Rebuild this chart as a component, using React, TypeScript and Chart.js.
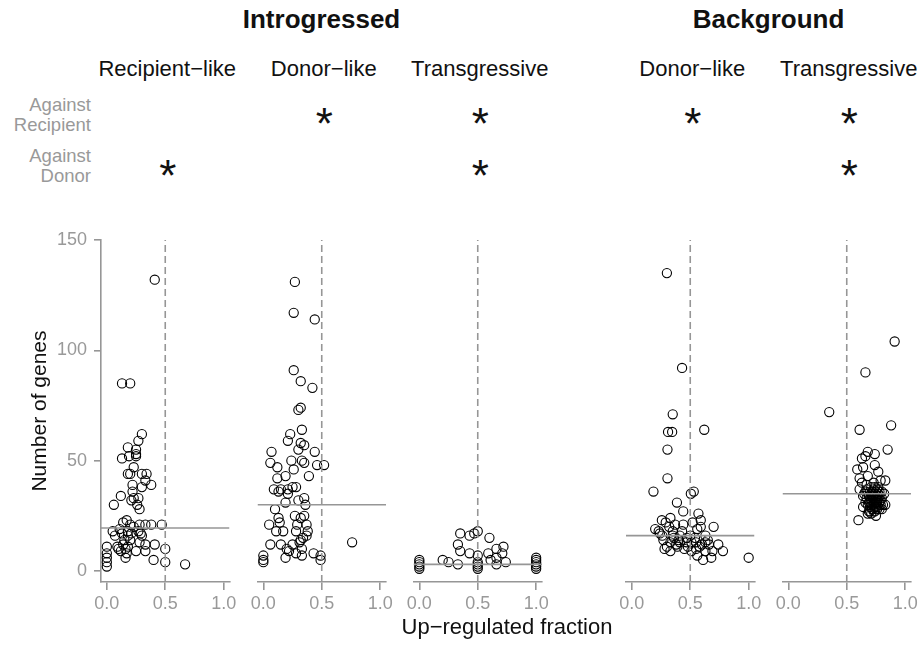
import React, { useEffect, useRef } from 'react';
import { Chart, registerables } from 'chart.js';

Chart.register(...registerables);

// ---------------- data ----------------
const groupTitles = ['Introgressed', 'Background'];
const panelTitles = ['Recipient−like', 'Donor−like', 'Transgressive', 'Donor−like', 'Transgressive'];
const panelGroup = [0, 0, 0, 1, 1];
const rowLabels = [['Against', 'Recipient'], ['Against', 'Donor']];
const sigAgainstRecipient = [false, true, true, true, true];
const sigAgainstDonor = [true, false, true, false, true];
const medians = [19.5, 30, 3, 16, 35];
const xTicks = [0, 0.5, 1];
const yTicks = [0, 50, 100, 150];
const refFraction = 0.5;
const xTitle = 'Up−regulated fraction';
const yTitle = 'Number of genes';

const introRecipientLike: [number, number][] = [
  [0.41, 132], [0.13, 85], [0.2, 85], [0.3, 62], [0.27, 59], [0.18, 56], [0.25, 55], [0.25, 53],
  [0.13, 51], [0.19, 52], [0.25, 52], [0.23, 47], [0.18, 44], [0.2, 44], [0.3, 44], [0.34, 44],
  [0.33, 41], [0.38, 39], [0.22, 39], [0.3, 38], [0.22, 36], [0.12, 34], [0.23, 33], [0.27, 33],
  [0.21, 32], [0.26, 30], [0.28, 28], [0.06, 30], [0.17, 23], [0.14, 22], [0.2, 21], [0.28, 21],
  [0.33, 21], [0.38, 21], [0.47, 21], [0.05, 18], [0.11, 19], [0.07, 16], [0.18, 18], [0.21, 17],
  [0.27, 18], [0.29, 17], [0.3, 16], [0.18, 16], [0.2, 14], [0.14, 12], [0.18, 11], [0.28, 13],
  [0.33, 12], [0.41, 12], [0.1, 10], [0.12, 9], [0.16, 10], [0.25, 9], [0.33, 9], [0.5, 10],
  [0.16, 6], [0, 11], [0, 8], [0, 6], [0, 2], [0.4, 5], [0.5, 4], [0.67, 3], [0.09, 11],
  [0.15, 14], [0.23, 20], [0.17, 8], [0.13, 17], [0, 4],
];

const introDonorLike: [number, number][] = [
  [0.27, 131], [0.26, 117], [0.44, 114], [0.26, 91], [0.32, 86], [0.42, 83], [0.3, 73], [0.32, 74],
  [0.33, 64], [0.23, 62], [0.21, 59], [0.32, 58], [0.35, 57], [0.3, 55], [0.07, 54], [0.44, 54],
  [0.06, 49], [0.24, 50], [0.33, 50], [0.35, 49], [0.12, 47], [0.26, 46], [0.46, 48], [0.52, 48],
  [0.12, 42], [0.19, 43], [0.39, 43], [0.09, 37], [0.13, 36], [0.15, 37], [0.21, 35], [0.21, 37],
  [0.25, 38], [0.28, 38], [0.3, 32], [0.35, 33], [0.36, 30], [0.19, 31], [0.1, 28], [0.27, 25],
  [0.32, 24], [0.35, 25], [0.13, 24], [0.14, 22], [0.05, 21], [0.29, 21], [0.37, 21], [0.11, 18],
  [0.17, 18], [0.28, 18], [0.38, 18], [0.37, 16], [0.34, 15], [0.32, 14], [0.06, 12], [0.15, 12],
  [0.25, 12], [0.31, 13], [0.2, 10], [0.22, 9], [0.28, 8], [0.33, 10], [0.33, 7], [0.19, 6],
  [0.43, 8], [0.49, 7], [0.49, 5], [0, 7], [0, 5], [0, 4], [0.76, 13],
];

const introTransgressive: [number, number][] = [
  [0.35, 17], [0.43, 16], [0.47, 17], [0.5, 18], [0.6, 15], [0.33, 12], [0.72, 11], [0.66, 10],
  [0.35, 9], [0.43, 8], [0.59, 8], [0.71, 8], [0.5, 7], [0.2, 5], [0.25, 4], [0.33, 3],
  [0.61, 5], [0.66, 6], [0.66, 3], [0.74, 4], [0.5, 4], [0.5, 2], [0.5, 3], [0, 5],
  [0, 4], [0, 3], [0, 2], [0, 1], [1, 6], [1, 5], [1, 4], [1, 3], [1, 2], [1, 1], [0.5, 1],
];

const backDonorLike: [number, number][] = [
  [0.3, 135], [0.43, 92], [0.35, 71], [0.31, 63], [0.345, 63], [0.62, 64], [0.305, 55], [0.305, 42],
  [0.185, 36], [0.505, 35], [0.53, 36], [0.386, 31], [0.44, 27], [0.57, 26], [0.257, 23], [0.33, 24],
  [0.59, 23], [0.7, 20], [0.2, 19], [0.23, 18], [0.29, 22], [0.32, 20], [0.37, 21], [0.44, 21],
  [0.52, 22], [0.56, 19], [0.59, 20], [0.26, 16], [0.27, 14], [0.35, 18], [0.35, 16], [0.41, 16],
  [0.47, 15], [0.5, 16], [0.54, 15], [0.63, 16], [0.33, 13], [0.38, 12], [0.41, 13], [0.47, 13],
  [0.51, 13], [0.55, 13], [0.6, 12], [0.63, 13], [0.66, 12], [0.74, 12], [0.33, 9], [0.39, 11],
  [0.51, 9], [0.55, 10], [0.63, 9], [0.69, 9], [0.78, 9], [0.61, 5], [0.68, 6], [1.0, 6],
  [0.24, 17], [0.28, 10], [0.45, 10], [0.58, 11], [0.4, 14], [0.65, 14], [0.3, 11], [0.36, 15],
  [0.48, 11], [0.56, 7], [0.43, 18],
];

const backTransgressive: [number, number][] = [
  [0.91, 104], [0.66, 90], [0.35, 72], [0.88, 66], [0.61, 64], [0.85, 55], [0.68, 54], [0.74, 53],
  [0.63, 51], [0.66, 52], [0.74, 48], [0.59, 46], [0.64, 47], [0.77, 45], [0.61, 42], [0.68, 43],
  [0.79, 41], [0.83, 41], [0.61, 37], [0.67, 39], [0.83, 30], [0.6, 23], [0.68, 26], [0.74, 27],
  [0.65, 35], [0.67, 33], [0.69, 31], [0.7, 36], [0.71, 34], [0.72, 32], [0.73, 30], [0.74, 35],
  [0.75, 33], [0.76, 31], [0.77, 29], [0.78, 34], [0.79, 32], [0.8, 36], [0.81, 30], [0.7, 29],
  [0.72, 28], [0.68, 30], [0.66, 31], [0.71, 38], [0.74, 38], [0.76, 37], [0.78, 28], [0.73, 27],
  [0.69, 27], [0.75, 25], [0.71, 26], [0.8, 33], [0.64, 34], [0.82, 35], [0.72, 36], [0.76, 34],
  [0.74, 31], [0.7, 33], [0.78, 31], [0.67, 37], [0.73, 40], [0.63, 40], [0.77, 38],
  [0.71, 32], [0.73, 34], [0.75, 36], [0.77, 33], [0.72, 30], [0.74, 29], [0.76, 28], [0.7, 31],
  [0.73, 33], [0.75, 31], [0.77, 35], [0.79, 30], [0.71, 35], [0.74, 33], [0.72, 34], [0.76, 32],
  [0.78, 36], [0.69, 34], [0.73, 37], [0.75, 29], [0.7, 27], [0.8, 28], [0.66, 36], [0.64, 29],
];

const panelSeries = [introRecipientLike, introDonorLike, introTransgressive, backDonorLike, backTransgressive];

// ---------------- layout / style ----------------
const FONT = '"Liberation Sans", Arial, Helvetica, sans-serif';
const GRAY = '#969696';
const TEXT_GRAY = '#999999';
const X_MIN = -0.05;
const X_MAX = 1.05;
const Y_MIN = -5;
const Y_MAX = 150;
const PANEL_LEFTS = [101, 257.5, 413.5, 626, 782.5];
const PANEL_W = 128.5;
const CANVAS_TOP = 220;
const CANVAS_H = 425;
const PAD_TOP = 20;
const X_AXIS_H = 63;

Chart.defaults.font.family = FONT;

function Panel({ index }: { index: number }) {
  const ref = useRef<HTMLCanvasElement | null>(null);
  const showY = index === 0;
  const panelLeft = PANEL_LEFTS[index];
  const canvasLeft = showY ? 0 : Math.floor(panelLeft) - 12;
  const leftGutter = panelLeft - canvasLeft;
  const canvasW = Math.ceil(panelLeft + PANEL_W) + 12 - canvasLeft;
  const padRight = canvasLeft + canvasW - (panelLeft + PANEL_W);

  useEffect(() => {
    const canvas = ref.current;
    if (!canvas) return;
    const points = panelSeries[index].map(([x, y]) => ({ x, y }));
    const chart = new Chart(canvas, {
      type: 'scatter',
      data: {
        datasets: [
          {
            type: 'line',
            data: [{ x: refFraction, y: Y_MIN }, { x: refFraction, y: Y_MAX }],
            borderColor: GRAY,
            borderWidth: 1.6,
            borderDash: [7, 4],
            pointRadius: 0,
            showLine: true,
          } as any,
          {
            type: 'line',
            data: [{ x: X_MIN, y: medians[index] }, { x: X_MAX, y: medians[index] }],
            borderColor: GRAY,
            borderWidth: 1.6,
            pointRadius: 0,
            showLine: true,
          } as any,
          {
            data: points,
            pointRadius: 4.6,
            pointBorderColor: '#000',
            pointBackgroundColor: 'rgba(0,0,0,0)',
            pointBorderWidth: 1.1,
            clip: false,
          } as any,
        ],
      },
      options: {
        responsive: false,
        animation: false,
        events: [],
        layout: {
          padding: { left: showY ? 0 : leftGutter, right: padRight, top: PAD_TOP, bottom: 0 },
        },
        plugins: { legend: { display: false }, tooltip: { enabled: false } },
        scales: {
          x: {
            type: 'linear',
            min: X_MIN,
            max: X_MAX,
            afterBuildTicks: (s: any) => {
              s.ticks = xTicks.map((v) => ({ value: v }));
            },
            afterFit: (s: any) => {
              s.height = X_AXIS_H;
            },
            grid: { drawOnChartArea: false, drawTicks: true, tickLength: 8, color: GRAY, lineWidth: 1.6 },
            border: { display: true, color: GRAY, width: 1.6 },
            ticks: {
              color: TEXT_GRAY,
              font: { family: FONT, size: 18 },
              padding: 3,
              maxRotation: 0,
              autoSkip: false,
              callback: (v: any) => Number(v).toFixed(1),
            },
          },
          y: {
            type: 'linear',
            display: showY,
            min: Y_MIN,
            max: Y_MAX,
            afterBuildTicks: (s: any) => {
              s.ticks = yTicks.map((v) => ({ value: v }));
            },
            afterFit: (s: any) => {
              s.width = showY ? leftGutter : 0;
            },
            grid: { drawOnChartArea: false, drawTicks: true, tickLength: 7, color: GRAY, lineWidth: 1.6 },
            border: { display: true, color: GRAY, width: 1.6 },
            ticks: {
              color: TEXT_GRAY,
              font: { family: FONT, size: 18 },
              padding: 7,
              autoSkip: false,
              callback: (v: any) => String(v),
            },
            title: {
              display: true,
              text: yTitle,
              color: '#111',
              font: { family: FONT, size: 21 },
              padding: { top: 28, bottom: 0 },
            },
          },
        },
      },
    });
    return () => chart.destroy();
  }, [index]);

  return (
    <canvas
      ref={ref}
      width={canvasW}
      height={CANVAS_H}
      style={{ position: 'absolute', left: canvasLeft, top: CANVAS_TOP, width: canvasW, height: CANVAS_H }}
    />
  );
}

const centered = (x: number, y: number, extra: React.CSSProperties = {}): React.CSSProperties => ({
  position: 'absolute',
  left: x,
  top: y,
  transform: 'translate(-50%, -50%)',
  lineHeight: 1,
  whiteSpace: 'nowrap',
  ...extra,
});

export default function App() {
  const panelCenter = (i: number) => PANEL_LEFTS[i] + PANEL_W / 2;
  const groupCenter = (g: number) => {
    const idx = panelGroup.map((pg, i) => (pg === g ? i : -1)).filter((i) => i >= 0);
    const l = PANEL_LEFTS[idx[0]];
    const r = PANEL_LEFTS[idx[idx.length - 1]] + PANEL_W;
    return (l + r) / 2;
  };
  return (
    <div
      style={{
        position: 'absolute',
        left: 0,
        top: 0,
        width: 919,
        height: 645,
        background: '#fff',
        fontFamily: FONT,
        overflow: 'hidden',
      }}
    >
      {groupTitles.map((t, g) => (
        <div key={t} style={centered(groupCenter(g), 19, { fontSize: 26, fontWeight: 'bold', color: '#111' })}>
          {t}
        </div>
      ))}
      {panelTitles.map((t, i) => (
        <div key={'pt' + i} style={centered(panelCenter(i) + 2, 68.5, { fontSize: 22, color: '#111' })}>
          {t}
        </div>
      ))}
      {rowLabels.map((lines, r) => (
        <div
          key={'rl' + r}
          style={{
            position: 'absolute',
            right: 919 - 91,
            top: r === 0 ? 95 : 146,
            textAlign: 'right',
            fontSize: 18.5,
            lineHeight: '20px',
            color: TEXT_GRAY,
          }}
        >
          {lines.map((l) => (
            <div key={l}>{l}</div>
          ))}
        </div>
      ))}
      {sigAgainstRecipient.map((s, i) =>
        s ? (
          <div key={'sr' + i} style={centered(panelCenter(i) + 2.5, 123.5, { fontSize: 44, color: '#111' })}>
            *
          </div>
        ) : null
      )}
      {sigAgainstDonor.map((s, i) =>
        s ? (
          <div key={'sd' + i} style={centered(panelCenter(i) + 2.5, 175.8, { fontSize: 44, color: '#111' })}>
            *
          </div>
        ) : null
      )}
      {panelSeries.map((_, i) => (
        <Panel key={i} index={i} />
      ))}
      <div style={centered(507, 627, { fontSize: 22, color: '#111' })}>{xTitle}</div>
    </div>
  );
}
